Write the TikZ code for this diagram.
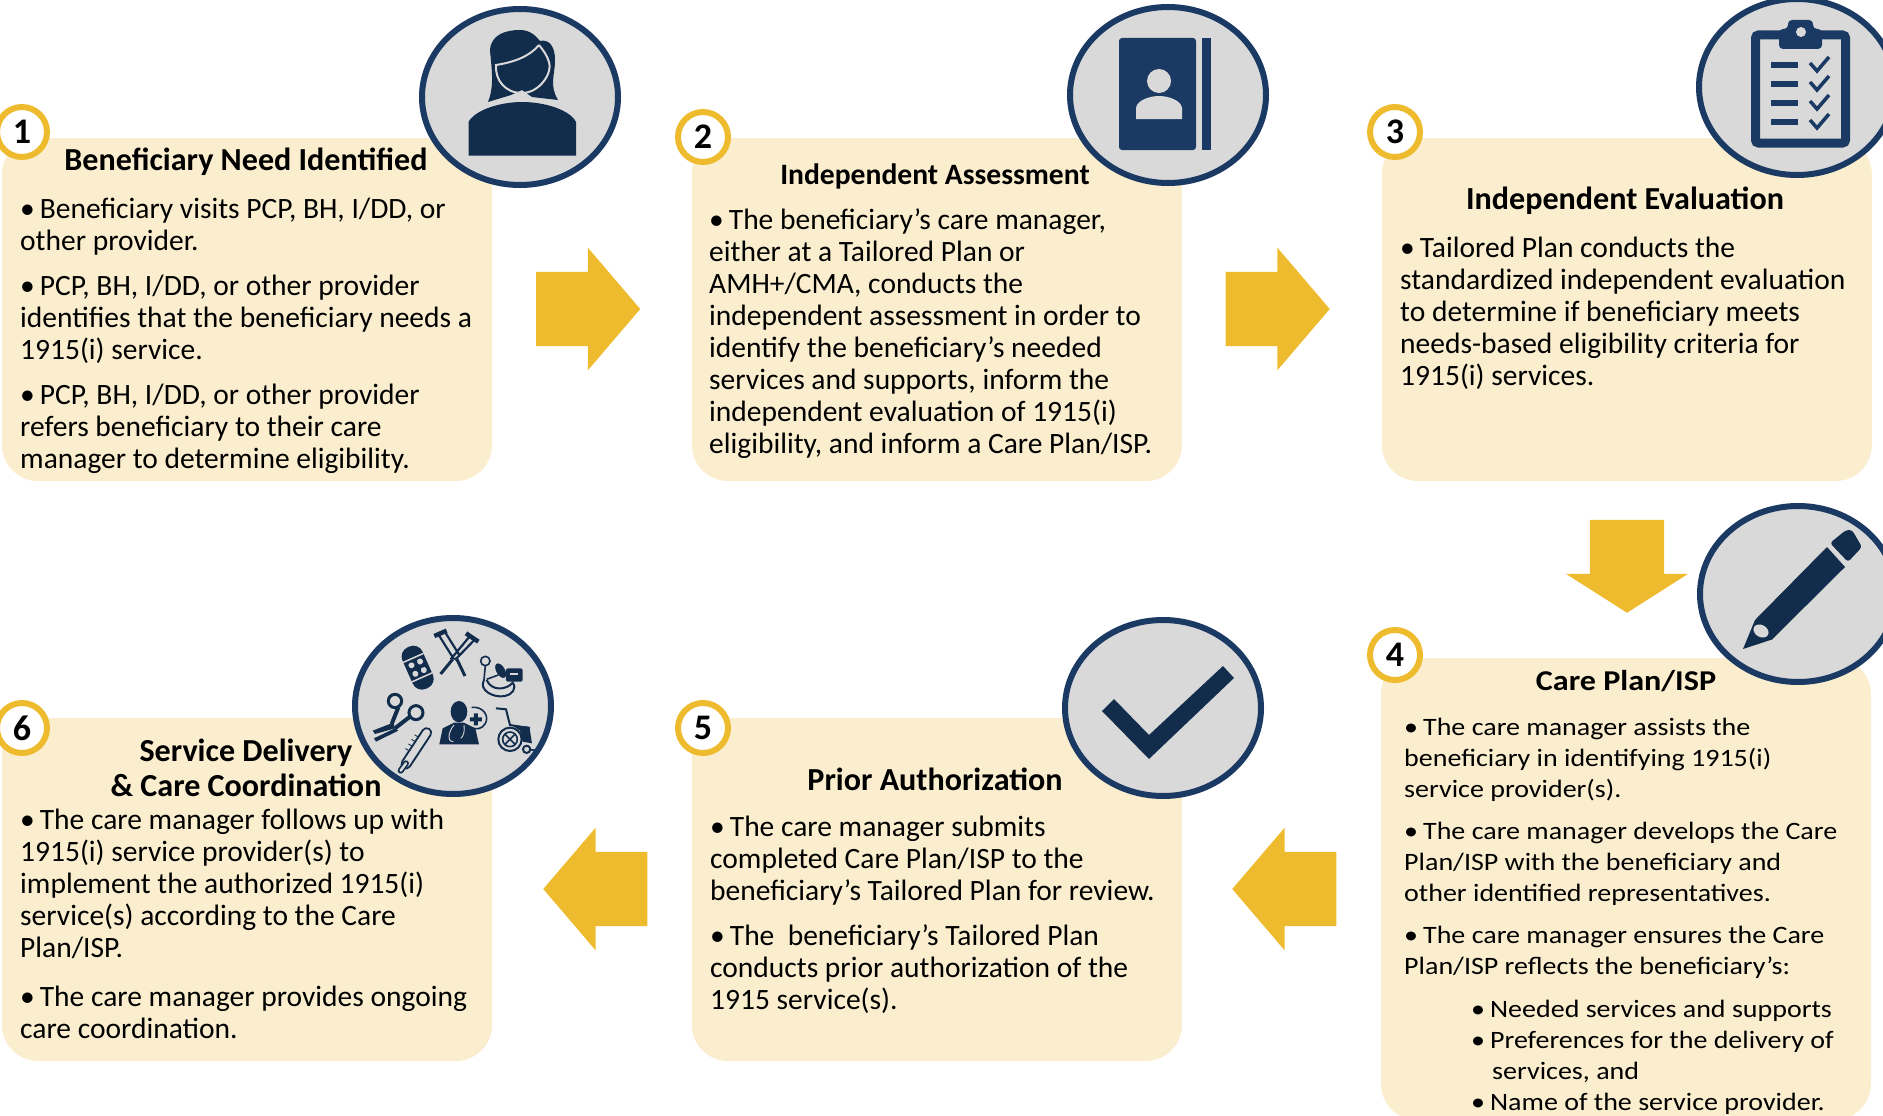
\documentclass[tikz,border=0pt]{standalone}
\usepackage{fontspec}
\setmainfont{Carlito}
\newfontfamily\widefont[FakeStretch=1.12]{Carlito}
\usetikzlibrary{calc,positioning,shapes.geometric,shapes.arrows}
\definecolor{boxfill}{HTML}{FBEECF}
\definecolor{gold}{HTML}{EFBB2E}
\definecolor{navyline}{HTML}{1B3A63}
\definecolor{navyicon}{HTML}{122C4C}
\definecolor{discfill}{HTML}{D9D9D9}
\newcommand{\itm}{\textbullet\hspace{5pt}}

\begin{document}
\begin{tikzpicture}[
                x=1pt,y=-1pt,
                stepbox/.style={rectangle,rounded corners=36pt,fill=boxfill,minimum width=490pt,inner sep=0pt},
                badge/.style={circle,draw=gold,fill=white,line width=6pt,minimum size=50pt,inner sep=0pt,font=\fontsize{36}{36}\selectfont\bfseries},
                disc/.style={ellipse,draw=navyline,fill=discfill,line width=6pt,minimum width=196pt,minimum height=176pt,inner sep=0pt},
                bodytext/.style={anchor=north west,align=left,inner sep=0pt,font=\fontsize{29.5}{32}\selectfont},
                widetext/.style={anchor=north west,align=left,inner sep=0pt,font=\widefont\fontsize{25}{31}\selectfont},
                headtext/.style={align=center,inner sep=0pt,font=\fontsize{32.1}{34.8}\selectfont\bfseries},
                bigarrow/.style={single arrow,fill=gold,inner sep=0pt,text height=74pt,text depth=0pt,minimum width=122pt,minimum height=104pt,single arrow head extend=24pt,single arrow tip angle=99,anchor=tip},
                icon/.style={fill=navyicon,draw=none},
                iconline/.style={draw=navyicon,line width=1.6pt,fill=none}
            ]
                \useasboundingbox (0,0) rectangle (1883,1116);

                \node (boxA) [stepbox,minimum height=343pt] at (247,309.5) {};
                \node (boxB) [stepbox,minimum height=343pt,right=199.5pt of boxA] {};
                \node (boxC) [stepbox,minimum height=343pt,right=199.5pt of boxB] {};
                \node (boxF) [stepbox,minimum height=343pt] at (247,889.5) {};
                \node (boxE) [stepbox,minimum height=343pt,right=199.5pt of boxF] {};
                \node (boxD) [stepbox,minimum height=462pt] at (1626,889) {};

                \node (arrAB) [bigarrow] at (640.5,309) {};
                \node (arrBC) [bigarrow] at (1330,309) {};
                \node (arrCD) [bigarrow,rotate=-90,minimum height=93pt,single arrow tip angle=115] at (1627,613) {};
                \node (arrDE) [bigarrow,rotate=180] at (1232,889) {};
                \node (arrEF) [bigarrow,rotate=180] at (543,889) {};

                \node (headA) [headtext] at (246,162) {Beneficiary Need Identified};
                \node (headB) [headtext,font=\fontsize{29.6}{34}\selectfont\bfseries] at (935,176) {Independent Assessment};
                \node (headC) [headtext] at (1625,201) {Independent Evaluation};
                \node (headD) [headtext,font=\widefont\fontsize{28.7}{34}\selectfont\bfseries] at (1626,681) {Care Plan/ISP};
                \node (headE) [headtext] at (935,779) {Prior Authorization};
                \node (headF) [headtext] at (246,768) {Service Delivery\\\& Care Coordination};

                \node (textA) [bodytext] at (20,198) {\itm Beneficiary visits PCP, BH, I/DD, or\\other provider.\\[13pt]\itm PCP, BH, I/DD, or other provider\\identifies that the beneficiary needs a\\1915(i) service.\\[13pt]\itm PCP, BH, I/DD, or other provider\\refers beneficiary to their care\\manager to determine eligibility.};
                \node (textB) [bodytext] at (709,208) {\itm The beneficiary’s care manager,\\either at a Tailored Plan or\\AMH+/CMA, conducts the\\independent assessment in order to\\identify the beneficiary’s needed\\services and supports, inform the\\independent evaluation of 1915(i)\\eligibility, and inform a Care Plan/ISP.};
                \node (textC) [bodytext] at (1400,237) {\itm Tailored Plan conducts the\\standardized independent evaluation\\to determine if beneficiary meets\\needs-based eligibility criteria for\\1915(i) services.};
                \node (textD) [widetext] at (1404,718) {\itm The care manager assists the\\beneficiary in identifying 1915(i)\\service provider(s).\\[11pt]\itm The care manager develops the Care\\Plan/ISP with the beneficiary and\\other identified representatives.\\[11pt]\itm The care manager ensures the Care\\Plan/ISP reflects the beneficiary’s:};
                \node (textDsub) [widetext] at (1471,1000) {\itm Needed services and supports\\\itm Preferences for the delivery of\\\hspace{21pt}services, and\\\itm Name of the service provider.};
                \node (textE) [bodytext] at (710,816) {\itm The care manager submits\\completed Care Plan/ISP to the\\beneficiary’s Tailored Plan for review.\\[13pt]\itm The\ \ beneficiary’s Tailored Plan\\conducts prior authorization of the\\1915 service(s).};
                \node (textF) [bodytext] at (20,809) {\itm The care manager follows up with\\1915(i) service provider(s) to\\implement the authorized 1915(i)\\service(s) according to the Care\\Plan/ISP.\\[17pt]\itm The care manager provides ongoing\\care coordination.};

                \node (numA) [badge] at (22,132) {1};
                \node (numB) [badge] at (703,137) {2};
                \node (numC) [badge] at (1395,132) {3};
                \node (numD) [badge] at (1395,655) {4};
                \node (numE) [badge] at (703,728) {5};
                \node (numF) [badge] at (22,728) {6};

                \node (discA) [disc] at (520,97) {};
                \node (discB) [disc] at (1168,95) {};
                \node (discC) [disc] at (1797,87) {};
                \node (discD) [disc] at (1798,594) {};
                \node (discE) [disc] at (1163,708) {};
                \node (discF) [disc] at (453,706) {};

                % woman
                \fill[icon] (488,102) .. controls (495,85) and (491,65) .. (490,50) .. controls (491,35) and (505,30) .. (520,30) .. controls (530,30) and (536,36) .. (540,41) .. controls (548,39) and (555,45) .. (555,60) .. controls (555,75) and (549,85) .. (558,100) -- (532,97) -- (522,90) -- (511,95) -- cycle;
                \draw[discfill,line width=2pt] (539,45) .. controls (530,56) and (515,62) .. (496,65) .. controls (495,80) and (505,93) .. (522,93) .. controls (540,93) and (553,72) .. (549,62) .. controls (547,55) and (543,50) .. (539,45);
                \fill[icon] (468.5,155.7) -- (468.5,122) .. controls (475,110) and (500,102) .. (522,102) .. controls (545,102) and (570,110) .. (576,122) -- (576,155.7) -- cycle;

                % address book
                \fill[navyline,rounded corners=3pt] (1119,38) rectangle (1196,150);
                \fill[navyline] (1202,38) rectangle (1211,150);
                \fill[discfill] (1159,81) ellipse [x radius=12,y radius=12];
                \fill[discfill] (1136,119) -- (1136,108) .. controls (1137,100) and (1150,96) .. (1159,96) .. controls (1168,96) and (1181,100) .. (1182,108) -- (1182,119) -- cycle;

                % clipboard
                \draw[navyline,line width=9pt,rounded corners=3pt] (1755.5,35) rectangle (1845.5,143);
                \fill[navyline,rounded corners=4pt] (1779,49) -- (1779,29) -- (1788,29) -- (1788,20) -- (1813,20) -- (1813,29) -- (1822,29) -- (1822,49) -- cycle;
                \fill[discfill] (1801,32) circle (5);
                \foreach \ya in {65,84,103,122} {
                    \fill[navyline] (1771,\ya-3.2) rectangle (1798,\ya+3.2);
                    \draw[navyline,line width=3.5pt] (1810,\ya-2) -- (1817,\ya+6) -- (1829,\ya-8);
                }

                % pencil
                \fill[icon] (1743,649) -- (1755,620) -- (1827,547) -- (1845,567) -- (1772,639.5) -- cycle;
                \fill[icon,rounded corners=3pt] (1830,543) -- (1846,530) -- (1852,530) -- (1862,547) -- (1848,562) -- cycle;
                \fill[discfill,rotate around={-30:(1761,631)}] (1761,631) ellipse [x radius=8,y radius=6];

                % check mark
                \fill[icon] (1102,711) -- (1114,699) -- (1149,735) -- (1223,666) -- (1234,678) -- (1149,759) -- cycle;

                % care items
                \begin{scope}[shift={(330,600)},x=0.3333pt,y=-0.3333pt]
                    \begin{scope}[shift={(263,203)},rotate=-66]
                        \fill[icon,rounded corners=10pt] (-68,-33) rectangle (68,33);
                        \draw[discfill,line width=1.5pt] (-32,-33) -- (-32,33) (32,-33) -- (32,33);
                        \foreach \xa in {-14,14} \foreach \ya in {-14,14} \fill[discfill] (\xa,\ya) circle (9);
                    \end{scope}
                    \draw[navyicon,line width=4.5pt] (313,108) -- (350,92) (408,100) -- (445,125);
                    \draw[navyicon,line width=2.2pt] (325,103) -- (372,178) (345,96) -- (388,165) (420,108) -- (362,178) (435,118) -- (375,180);
                    \draw[navyicon,line width=3pt] (378,172) -- (405,228) (368,178) -- (332,222);

                    \draw[iconline] (466,183) circle (14) (466,197) -- (462,240);
                    \draw[iconline,line width=2pt] (462,240) .. controls (445,270) and (490,295) .. (525,288) .. controls (545,285) and (562,265) .. (548,248) .. controls (530,270) and (485,275) .. (470,240);
                    \draw[iconline] (470,238) -- (505,225);
                    \fill[icon,rotate around={30:(512,212)}] (512,212) ellipse [x radius=13,y radius=24];
                    \fill[icon,rounded corners=2pt] (528,205) rectangle (578,245);
                    \fill[discfill] (540,218) rectangle (565,224);

                    \draw[iconline,line width=3pt] (195,303) circle (20) (258,338) circle (21);
                    \draw[navyicon,line width=4pt] (205,322) -- (185,372) (240,350) -- (195,385);
                    \fill[icon] (190,368) -- (128,392) -- (135,402) -- (195,385) -- cycle;
                    \fill[icon] (195,385) -- (132,415) -- (138,425) -- (205,392) -- cycle;

                    \fill[icon] (387,335) ellipse [x radius=25,y radius=32];
                    \fill[icon] (328,433) -- (338,385) -- (372,368) -- (402,368) -- (436,385) -- (447,433) -- cycle;
                    \draw[discfill,line width=0.9pt] (372,375) .. controls (355,395) and (350,425) .. (370,425) (402,375) .. controls (405,395) and (400,410) .. (392,415);
                    \draw[iconline] (425,322) .. controls (460,318) and (480,350) .. (465,372) .. controls (455,388) and (440,388) .. (425,384);
                    \fill[icon] (432,340) rectangle (444,376) (420,352) rectangle (456,364);

                    \draw[navyicon,line width=11pt,line cap=round] (290,398) -- (228,492);
                    \draw[discfill,line width=7pt,line cap=round] (290,398) -- (228,492);
                    \draw[navyicon,line width=6pt,line cap=round] (228,490) -- (212,512);
                    \draw[discfill,line width=2.5pt,line cap=round] (228,490) -- (212,512);
                    \foreach \ta in {0.2,0.35,0.5,0.65} \draw[navyicon,line width=0.9pt] ($(276,392)!\ta!(215,484)$) -- ++(-10,-6);

                    \draw[iconline,line width=2pt] (498,325) -- (528,328) -- (540,375) -- (600,385);
                    \fill[icon] (545,375) -- (598,380) -- (606,430) -- (578,425) -- (570,392) -- cycle;
                    \draw[iconline,line width=2pt] (540,418) circle (35) (590,448) circle (11);
                    \draw[iconline] (540,418) circle (22) (525,403) -- (555,433) (555,403) -- (525,433);
                    \draw[navyline,line width=1.5pt] (603,450) -- (630,450);
                \end{scope}
            \end{tikzpicture}
\end{document}
